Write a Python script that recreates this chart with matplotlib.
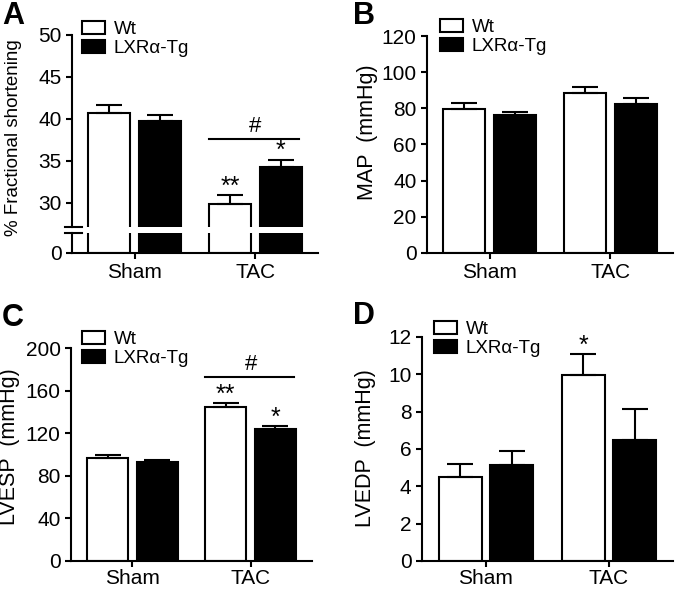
import matplotlib
matplotlib.use("Agg")
import matplotlib.pyplot as plt
import numpy as np

plt.rcParams['font.family'] = ['Liberation Sans', 'DejaVu Sans']

groups = ["Sham", "TAC"]
series = ["Wt", "LXRα-Tg"]

# Panel A: % Fractional shortening
fs_wt = [40.7, 29.9]
fs_wt_err = [1.0, 1.05]
fs_tg = [39.7, 34.2]
fs_tg_err = [0.8, 0.95]

# Panel B: MAP (mmHg)
map_wt = [79.6, 88.6]
map_wt_err = [3.4, 3.3]
map_tg = [76.2, 82.5]
map_tg_err = [1.9, 3.3]

# Panel C: LVESP (mmHg)
esp_wt = [96.6, 144.8]
esp_wt_err = [3.1, 3.5]
esp_tg = [92.5, 123.5]
esp_tg_err = [2.8, 3.5]

# Panel D: LVEDP (mmHg)
edp_wt = [4.48, 9.99]
edp_wt_err = [0.71, 1.11]
edp_tg = [5.12, 6.5]
edp_tg_err = [0.78, 1.64]

W, H = 678, 589
fig = plt.figure(figsize=(W / 100, H / 100), dpi=100)

LW = 1.5
TICK_FS = 15
LAB_FS = 15.5
LEG_FS = 13.5
LET_FS = 22
x = np.arange(len(groups))
off = 0.21
bw = 0.35


def style(ax, show_bottom=True, xpad=3):
    for s in ["top", "right"]:
        ax.spines[s].set_visible(False)
    ax.spines["left"].set_linewidth(LW)
    ax.spines["bottom"].set_linewidth(LW)
    if not show_bottom:
        ax.spines["bottom"].set_visible(False)
    ax.tick_params(direction="out", length=4.5, width=LW, labelsize=TICK_FS, pad=3)
    ax.tick_params(axis="x", pad=xpad)
    ax.set_xlim(-0.52, 1.52)


def bars(ax, wt, wt_err, tg, tg_err, errs=True):
    b1 = ax.bar(x - off, wt, bw, color="white", edgecolor="black", linewidth=LW, label=series[0], zorder=2)
    b2 = ax.bar(x + off, tg, bw, color="black", edgecolor="black", linewidth=LW, label=series[1], zorder=2)
    if errs:
        ax.errorbar(x - off, wt, yerr=[np.zeros(2), wt_err], fmt="none", ecolor="black",
                    elinewidth=LW, capsize=9.5, capthick=LW, zorder=3)
        ax.errorbar(x + off, tg, yerr=[np.zeros(2), tg_err], fmt="none", ecolor="black",
                    elinewidth=LW, capsize=9.5, capthick=LW, zorder=3)
    return b1, b2


def legend(ax, handles, px, py):
    ax.legend(handles=handles, loc="upper left", bbox_to_anchor=(px / W, 1 - py / H),
              bbox_transform=fig.transFigure, frameon=False, fontsize=LEG_FS,
              borderpad=0, borderaxespad=0, handlelength=1.25, handleheight=0.72,
              handletextpad=0.45, labelspacing=0.08)


def px_rect(l, t, r, b):
    return [l / W, 1 - b / H, (r - l) / W, (b - t) / H]


# ---------- Panel A (broken axis) ----------
axA = fig.add_axes(px_rect(72, 35, 318, 227))
axA0 = fig.add_axes(px_rect(72, 233, 318, 253))
style(axA, show_bottom=False)
style(axA0)
hA = bars(axA, fs_wt, fs_wt_err, fs_tg, fs_tg_err)
bars(axA0, fs_wt, fs_wt_err, fs_tg, fs_tg_err, errs=False)
axA.set_ylim(27.1, 50)
axA.set_yticks([30, 35, 40, 45, 50])
axA.set_xticks([])
axA0.set_ylim(0, 2.4)
axA0.set_yticks([0])
axA0.set_xticks(x)
axA0.set_xticklabels(groups)
axA.plot([-0.03, 0.04], [0, 0], transform=axA.transAxes, color="black", lw=LW, clip_on=False)
axA0.plot([-0.03, 0.04], [1, 1], transform=axA0.transAxes, color="black", lw=LW, clip_on=False)
legend(axA, hA, 82, 21)
# significance
sigA = 37.6
axA.plot([1 - off - bw / 2, 1 + off + bw / 2 - 0.02], [sigA, sigA], color="black", lw=LW)
axA.text(1, sigA + 0.25, "#", ha="center", va="bottom", fontsize=16)
axA.text(1 - off, fs_wt[1] + fs_wt_err[1] - 0.45, "**", ha="center", va="bottom", fontsize=18)
axA.text(1 + off, fs_tg[1] + fs_tg_err[1] - 0.45, "*", ha="center", va="bottom", fontsize=18)
fig.text(14 / W, 1 - 138 / H, "% Fractional shortening", rotation=90, ha="center", va="center", fontsize=13.5)
fig.text(2 / W, 1 - 16 / H, "A", ha="left", va="center", fontsize=LET_FS, fontweight="bold")

# ---------- Panel B ----------
axB = fig.add_axes(px_rect(427, 36, 673, 253))
style(axB)
hB = bars(axB, map_wt, map_wt_err, map_tg, map_tg_err)
axB.set_ylim(0, 120)
axB.set_yticks(np.arange(0, 121, 20))
axB.set_xticks(x)
axB.set_xticklabels(groups)
legend(axB, hB, 440, 19)
fig.text(368 / W, 1 - 132 / H, "MAP  (mmHg)", rotation=90, ha="center", va="center", fontsize=LAB_FS)
fig.text(353 / W, 1 - 16 / H, "B", ha="left", va="center", fontsize=LET_FS, fontweight="bold")

# ---------- Panel C ----------
axC = fig.add_axes(px_rect(71, 348, 312, 561))
style(axC, xpad=1.5)
hC = bars(axC, esp_wt, esp_wt_err, esp_tg, esp_tg_err)
axC.set_ylim(0, 200)
axC.set_yticks(np.arange(0, 201, 40))
axC.set_xticks(x)
axC.set_xticklabels(groups)
legend(axC, hC, 82, 331)
sigC = 172.4
axC.plot([1 - off - bw / 2, 1 + off + bw / 2 - 0.02], [sigC, sigC], color="black", lw=LW)
axC.text(1, sigC + 1.8, "#", ha="center", va="bottom", fontsize=16)
axC.text(1 - off, esp_wt[1] + esp_wt_err[1] - 3.5, "**", ha="center", va="bottom", fontsize=18)
axC.text(1 + off, esp_tg[1] + esp_tg_err[1] - 3.5, "*", ha="center", va="bottom", fontsize=18)
fig.text(10 / W, 1 - 447 / H, "LVESP  (mmHg)", rotation=90, ha="center", va="center", fontsize=LAB_FS)
fig.text(2 / W, 1 - 318 / H, "C", ha="left", va="center", fontsize=LET_FS, fontweight="bold")

# ---------- Panel D ----------
axD = fig.add_axes(px_rect(422, 337, 673, 561))
style(axD, xpad=1.5)
hD = bars(axD, edp_wt, edp_wt_err, edp_tg, edp_tg_err)
axD.set_ylim(0, 12)
axD.set_yticks(np.arange(0, 13, 2))
axD.set_xticks(x)
axD.set_xticklabels(groups)
legend(axD, hD, 434, 321)
axD.text(1 - off, edp_wt[1] + edp_wt_err[1] - 0.2, "*", ha="center", va="bottom", fontsize=18)
fig.text(366 / W, 1 - 448 / H, "LVEDP  (mmHg)", rotation=90, ha="center", va="center", fontsize=LAB_FS)
fig.text(353 / W, 1 - 316 / H, "D", ha="left", va="center", fontsize=LET_FS, fontweight="bold")

fig.savefig("out.png", dpi=100)
